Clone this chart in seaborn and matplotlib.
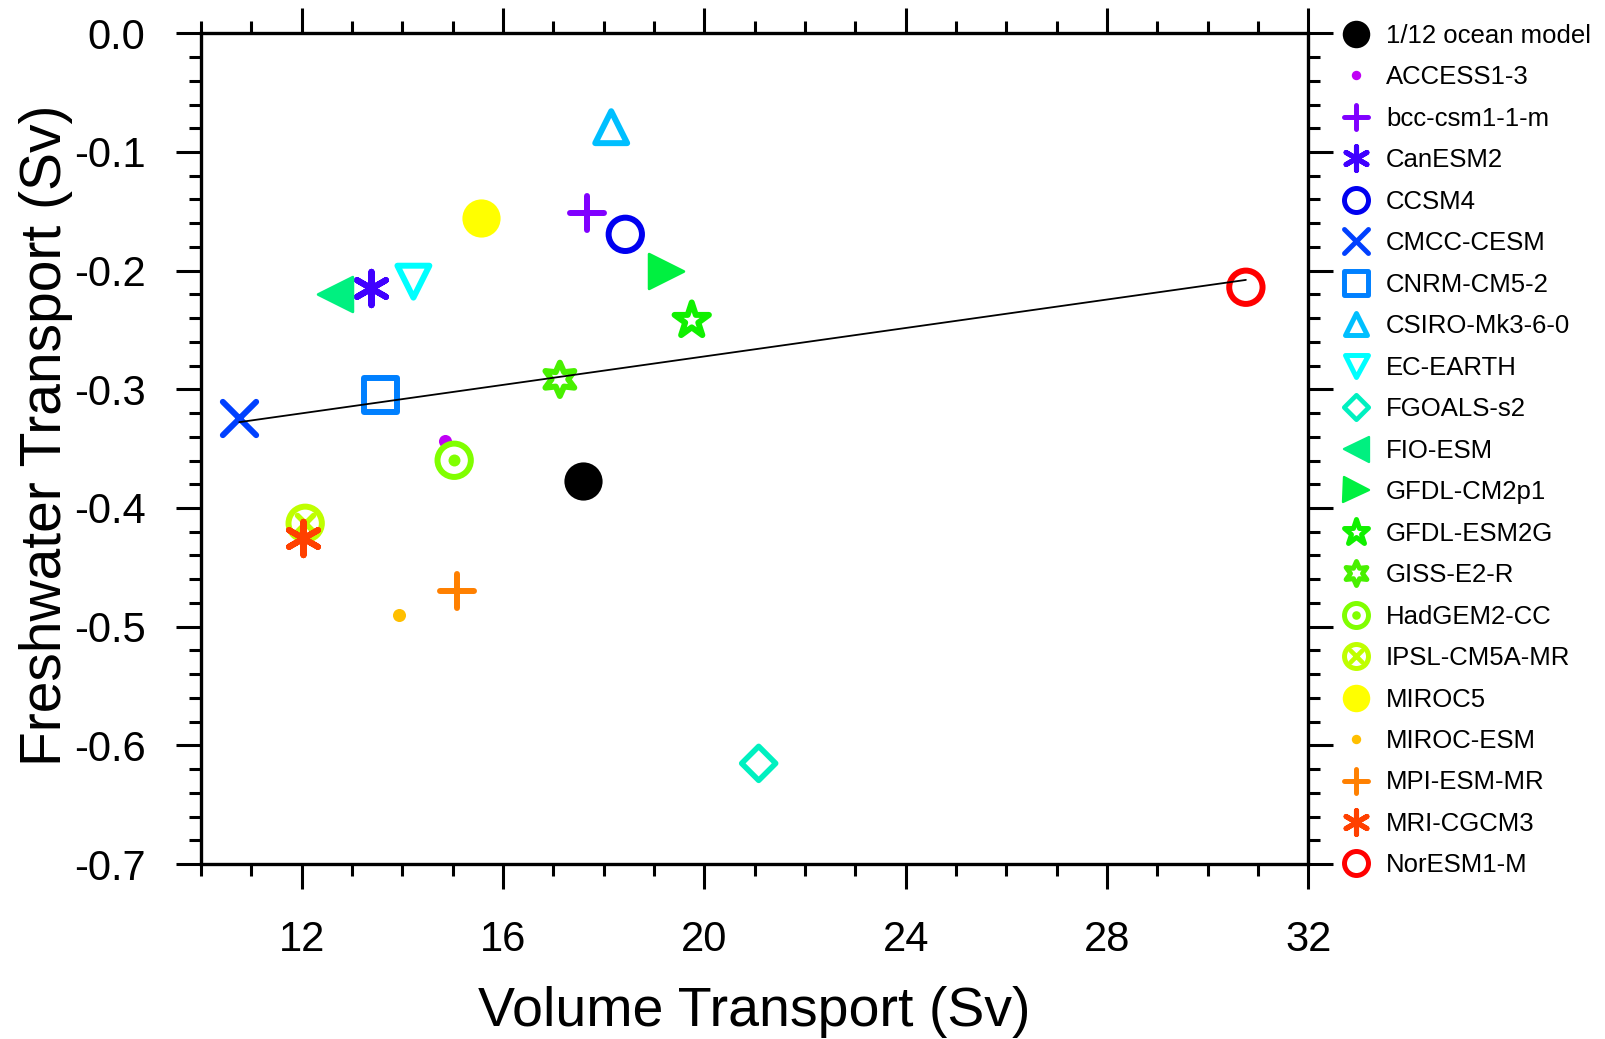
import matplotlib
matplotlib.use("Agg")
import matplotlib.pyplot as plt
from matplotlib.lines import Line2D
from matplotlib.markers import MarkerStyle
from matplotlib.ticker import MultipleLocator, FuncFormatter
import seaborn as sns

# reference run (Sv)
obs_name = "1/12 ocean model"
obs_volume = 17.58
obs_freshwater = -0.3775

# CMIP5 models
models = ["ACCESS1-3", "bcc-csm1-1-m", "CanESM2", "CCSM4", "CMCC-CESM",
          "CNRM-CM5-2", "CSIRO-Mk3-6-0", "EC-EARTH", "FGOALS-s2", "FIO-ESM",
          "GFDL-CM2p1", "GFDL-ESM2G", "GISS-E2-R", "HadGEM2-CC", "IPSL-CM5A-MR",
          "MIROC5", "MIROC-ESM", "MPI-ESM-MR", "MRI-CGCM3", "NorESM1-M"]
volume = [14.85, 17.67, 13.37, 18.43, 10.76, 13.56, 18.15, 14.22, 21.08, 12.66,
          19.23, 19.75, 17.13, 15.03, 12.07, 15.57, 13.94, 15.09, 12.02, 30.76]
freshwater = [-0.3436, -0.1517, -0.2149, -0.1694, -0.3244, -0.3048, -0.0791,
              -0.2093, -0.6152, -0.2195, -0.2007, -0.2420, -0.2916, -0.3598,
              -0.4129, -0.1556, -0.4902, -0.4697, -0.4250, -0.2140]

colors = ["#C000F5", "#8000FF", "#4000FF", "#0000F0", "#0040FF",
          "#0080FF", "#00BFFF", "#00FFFF", "#00F0C0", "#00F080",
          "#00F040", "#10F000", "#48F000", "#80FF00", "#BFFF00",
          "#FFFF00", "#FFBF00", "#FF8000", "#FF4000", "#FF0000"]
kinds = ["dot", "plus", "asterisk", "circle", "cross",
         "square", "tri_up", "tri_down", "diamond", "tri_left",
         "tri_right", "star", "hexagram", "circle_dot", "circle_x",
         "bigdot", "dot", "plus", "asterisk", "circle"]

# marker look: (matplotlib marker, size pt, filled, edge width pt)
MARKERS = {
    "bigdot": ("o", 27.5, True, 0.0),
    "dot": ("o", 9.4, True, 0.0),
    "plus": ("+", 24, False, 4.3),
    "asterisk": ((6, 2, 0), 24, False, 4.4),
    "circle": ("o", 24, False, 4.3),
    "cross": ("x", 24, False, 4.3),
    "square": ("s", 24, False, 4.3),
    "tri_up": ("^", 23, False, 4.3),
    "tri_down": ("v", 23, False, 4.3),
    "diamond": ((4, 0, 0), 24.5, False, 4.0),
    "tri_left": ("<", 25, True, 2.0),
    "tri_right": (">", 25, True, 2.0),
    "star": ("*", 26, False, 4.3),
    "hexagram": ((6, 1, 0), 24, False, 4.3),
}
# composite markers: outer ring plus an inner mark
INNER = {
    "circle_dot": ("o", 8.6, True, 0.0),
    "circle_x": ("x", 11.5, False, 4.0),
}
LEG_SIZE = 0.72
LEG_EDGE = 0.83


def parts(kind):
    if kind in INNER:
        return [MARKERS["circle"], INNER[kind]]
    return [MARKERS[kind]]


def draw(ax, x, y, kind, color):
    for marker, ms, filled, mew in parts(kind):
        m = MarkerStyle(marker)
        kw = dict(x=[x], y=[y], marker=marker, s=ms ** 2, color=color,
                  joinstyle="round", capstyle="round", ax=ax, zorder=3)
        if m.is_filled():
            kw["facecolor"] = color if filled else "none"
            kw["edgecolor"] = color
        kw["linewidth"] = mew
        sns.scatterplot(**kw)


def handle(kind, color):
    out = []
    for marker, ms, filled, mew in parts(kind):
        m = MarkerStyle(marker, joinstyle="round", capstyle="round")
        out.append(Line2D([], [], ls="none", marker=m, markersize=ms * LEG_SIZE,
                          markerfacecolor=color if filled else "none",
                          markeredgecolor=color, markeredgewidth=mew * LEG_EDGE))
    return out[0] if len(out) == 1 else tuple(out)


sns.set_style("ticks")
plt.rcParams["font.family"] = ["Liberation Sans", "DejaVu Sans"]
plt.rcParams["axes.unicode_minus"] = False
plt.rcParams["text.color"] = "black"
plt.rcParams["axes.labelcolor"] = "black"

fig = plt.figure(figsize=(16.06, 10.39), dpi=100)
fig.subplots_adjust(left=201 / 1606, right=1308.3 / 1606,
                    top=1 - 33.3 / 1039, bottom=1 - 864 / 1039)
ax = fig.add_subplot(111)

draw(ax, obs_volume, obs_freshwater, "bigdot", "black")
for x, y, k, c in zip(volume, freshwater, kinds, colors):
    draw(ax, x, y, k, c)

# least squares fit over the models only
sns.regplot(x=volume, y=freshwater, ci=None, scatter=False, truncate=True, ax=ax,
            line_kws=dict(color="black", lw=1.3, zorder=5))

ax.set_xlim(10, 32)
ax.set_ylim(-0.7, 0.0)
ax.xaxis.set_major_locator(MultipleLocator(4))
ax.xaxis.set_minor_locator(MultipleLocator(1))
ax.yaxis.set_major_locator(MultipleLocator(0.1))
ax.yaxis.set_minor_locator(MultipleLocator(0.02))
ax.yaxis.set_major_formatter(FuncFormatter(lambda v, p: "0.0" if abs(v) < 1e-9 else f"{v:.1f}"))
ax.tick_params(which="both", direction="out", top=True, right=True, width=2.2,
               color="black", labelsize=30, labelcolor="black")
ax.tick_params(which="major", length=18)
ax.tick_params(axis="y", which="major", pad=22)
ax.tick_params(axis="x", which="major", pad=22)
ax.tick_params(which="minor", length=8.6)
for sp in ax.spines.values():
    sp.set_linewidth(2.4)
    sp.set_color("black")
    sp.set_visible(True)

ax.set_xlabel("Volume Transport (Sv)", fontsize=40, color="black")
ax.set_ylabel("Freshwater Transport (Sv)", fontsize=41, color="black")
ax.xaxis.label.set_va("center")
ax.yaxis.label.set_va("center")
ax.xaxis.set_label_coords(0.5, -0.178)
ax.yaxis.set_label_coords(-0.14, 0.516)

handles = [handle("bigdot", "black")] + [handle(k, c) for k, c in zip(kinds, colors)]
labels = [obs_name] + models
leg = ax.legend(handles, labels, loc="upper left",
                bbox_to_anchor=(1336.7 / 1606, 1 - 24 / 1039),
                bbox_transform=fig.transFigure, frameon=False, borderpad=0,
                borderaxespad=0, handlelength=1.5, handletextpad=0.42,
                labelspacing=0.68, fontsize=18.5, numpoints=1)
for t in leg.get_texts():
    t.set_color("black")

fig.savefig("out.png", dpi=100)
